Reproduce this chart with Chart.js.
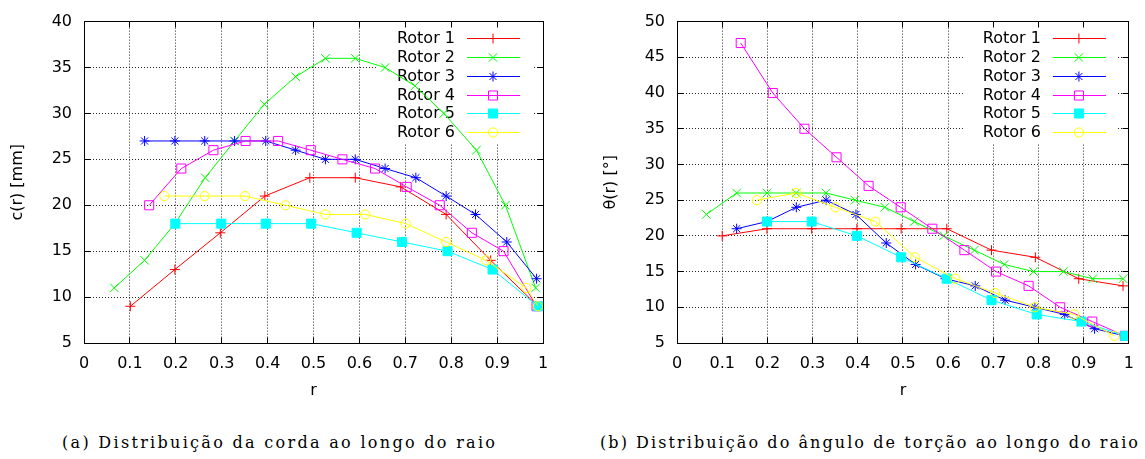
<!DOCTYPE html>
<html><head><meta charset="utf-8">
<script src="https://cdn.jsdelivr.net/npm/chart.js@4.4.1/dist/chart.umd.min.js"></script>
<style>
html,body{margin:0;padding:0;background:#fff;width:1145px;height:459px;overflow:hidden;position:relative}
.wrap{position:absolute;top:0}
.cap{position:absolute;top:433px;font-family:"DejaVu Serif",serif;font-size:16px;line-height:20px;white-space:nowrap;color:#000}
</style></head><body>
<div class="wrap" style="left:0"><canvas id="cA" width="560" height="410"></canvas></div>
<div class="wrap" style="left:593px"><canvas id="cB" width="552" height="410"></canvas></div>
<div class="cap" id="capA">(a) Distribuição da corda ao longo do raio</div>
<div class="cap" id="capB">(b) Distribuição do ângulo de torção ao longo do raio</div>
<script>
// ---------- data ----------
const rotorNames = ['Rotor 1', 'Rotor 2', 'Rotor 3', 'Rotor 4', 'Rotor 5', 'Rotor 6'];

const xTicks = [0, 0.1, 0.2, 0.3, 0.4, 0.5, 0.6, 0.7, 0.8, 0.9, 1];
const xTickLabels = ['0', '0.1', '0.2', '0.3', '0.4', '0.5', '0.6', '0.7', '0.8', '0.9', '1'];
const yTicksChord = [5, 10, 15, 20, 25, 30, 35, 40];
const yTicksTwist = [5, 10, 15, 20, 25, 30, 35, 40, 45, 50];

// (a) chord c(r) [mm]
const chordR1 = [0.101, 0.198, 0.297, 0.394, 0.492, 0.591, 0.690, 0.789, 0.886, 0.989];
const chordC1 = [9, 13, 17, 21, 23, 23, 22, 19, 14, 9];
const chordR2 = [0.066, 0.132, 0.198, 0.264, 0.328, 0.393, 0.461, 0.526, 0.591, 0.656, 0.721, 0.784, 0.855, 0.918, 0.984];
const chordC2 = [11, 14, 18, 23, 27, 31, 34, 36, 36, 35, 33, 30, 26, 20, 11];
const chordR3 = [0.132, 0.198, 0.263, 0.328, 0.396, 0.461, 0.526, 0.591, 0.656, 0.723, 0.789, 0.853, 0.921, 0.986];
const chordC3 = [27, 27, 27, 27, 27, 26, 25, 25, 24, 23, 21, 19, 16, 12];
const chordR4 = [0.142, 0.212, 0.282, 0.352, 0.423, 0.494, 0.563, 0.634, 0.703, 0.775, 0.845, 0.914, 0.986];
const chordC4 = [20, 24, 26, 27, 27, 26, 25, 24, 22, 20, 17, 15, 9];
const chordR5 = [0.199, 0.299, 0.396, 0.495, 0.594, 0.693, 0.792, 0.890, 0.989];
const chordC5 = [18, 18, 18, 18, 17, 16, 15, 13, 9];
const chordR6 = [0.175, 0.263, 0.351, 0.439, 0.526, 0.613, 0.701, 0.789, 0.876, 0.964, 0.989];
const chordC6 = [21, 21, 21, 20, 19, 19, 18, 16, 14, 11, 9];

// (b) twist angle theta(r) [deg]
const twistR1 = [0.100, 0.199, 0.298, 0.398, 0.496, 0.597, 0.696, 0.793, 0.889, 0.987];
const twistT1 = [20, 21, 21, 21, 21, 21, 18, 17, 14, 13];
const twistR2 = [0.065, 0.132, 0.199, 0.264, 0.330, 0.394, 0.460, 0.525, 0.590, 0.658, 0.724, 0.789, 0.855, 0.920, 0.987];
const twistT2 = [23, 26, 26, 26, 26, 25, 24, 22, 20, 18, 16, 15, 15, 14, 14];
const twistR3 = [0.132, 0.199, 0.264, 0.330, 0.396, 0.463, 0.528, 0.594, 0.660, 0.726, 0.792, 0.858, 0.924, 0.990];
const twistT3 = [21, 22, 24, 25, 23, 19, 16, 14, 13, 11, 10, 9, 7, 6];
const twistR4 = [0.141, 0.212, 0.282, 0.353, 0.424, 0.495, 0.565, 0.636, 0.706, 0.778, 0.848, 0.919, 0.991];
const twistT4 = [47, 40, 35, 31, 27, 24, 21, 18, 15, 13, 10, 8, 6];
const twistR5 = [0.199, 0.298, 0.398, 0.496, 0.597, 0.696, 0.796, 0.895, 0.992];
const twistT5 = [22, 22, 20, 17, 14, 11, 9, 8, 6];
const twistR6 = [0.177, 0.264, 0.351, 0.439, 0.527, 0.616, 0.704, 0.792, 0.879, 0.968];
const twistT6 = [25, 26, 24, 22, 17, 14, 12, 10, 9, 6];

// ---------- styles ----------
const colors = ['#ff0000', '#00ff00', '#0000ff', '#ff00ff', '#00ffff', '#ffff00'];
const markers = ['cross', 'crossRot', 'star', 'rect', 'rect', 'circle'];
const markerRadius = [5, 6, 5, 6.4, 6.4, 4.6];
const markerFilled = [false, false, false, false, true, false];
const FONT = {family: '"DejaVu Sans", sans-serif', size: 16};

function drawMarker(ctx, style, x, y, r, color, filled) {
  ctx.save();
  ctx.strokeStyle = color; ctx.fillStyle = color; ctx.lineWidth = 1;
  ctx.beginPath();
  if (style === 'cross' || style === 'star') {
    ctx.moveTo(x - r, y); ctx.lineTo(x + r, y);
    ctx.moveTo(x, y - r); ctx.lineTo(x, y + r);
  }
  if (style === 'crossRot' || style === 'star') {
    const d = r * Math.SQRT1_2;
    ctx.moveTo(x - d, y - d); ctx.lineTo(x + d, y + d);
    ctx.moveTo(x - d, y + d); ctx.lineTo(x + d, y - d);
  }
  if (style === 'rect') {
    const s = r * Math.SQRT1_2;
    ctx.rect(x - s, y - s, 2 * s, 2 * s);
    if (filled) ctx.fill();
  }
  if (style === 'circle') {
    ctx.arc(x, y, r, 0, Math.PI * 2);
  }
  ctx.stroke();
  ctx.restore();
}

const align = v => Math.round(v - 0.5) + 0.5;

const gnuplotLook = {
  id: 'gnuplotLook',
  beforeDatasetsDraw(chart) {
    const {ctx, chartArea: a} = chart;
    ctx.save();
    ctx.fillStyle = '#fff';
    ctx.fillRect(a.right - 166, a.top + 1, 155, 121);
    ctx.font = '16px "DejaVu Sans", sans-serif';
    ctx.textAlign = 'right';
    ctx.textBaseline = 'middle';
    chart.data.datasets.forEach((ds, i) => {
      const y = align(a.top + 17.3 + i * 18.7);
      ctx.fillStyle = '#000';
      ctx.fillText(ds.label, a.right - 88, y);
      ctx.strokeStyle = ds.borderColor; ctx.lineWidth = 1;
      ctx.beginPath(); ctx.moveTo(a.right - 76, y); ctx.lineTo(a.right - 23, y); ctx.stroke();
      drawMarker(ctx, markers[i], a.right - 50, y, markerRadius[i], colors[i], markerFilled[i]);
    });
    ctx.restore();
  },
  afterDraw(chart) {
    const {ctx, chartArea: a, scales} = chart;
    ctx.save();
    ctx.strokeStyle = '#000'; ctx.lineWidth = 1;
    const L = align(a.left), R = align(a.right), T = align(a.top), B = align(a.bottom);
    ctx.strokeRect(L, T, R - L, B - T);
    ctx.beginPath();
    scales.x.ticks.forEach(t => {
      const px = align(scales.x.getPixelForValue(t.value));
      ctx.moveTo(px, B); ctx.lineTo(px, B - 6);
      ctx.moveTo(px, T); ctx.lineTo(px, T + 6);
    });
    scales.y.ticks.forEach(t => {
      const py = align(scales.y.getPixelForValue(t.value));
      ctx.moveTo(L, py); ctx.lineTo(L + 6, py);
      ctx.moveTo(R, py); ctx.lineTo(R - 6, py);
    });
    ctx.stroke();
    ctx.restore();
  }
};

function makeChart(id, rs, vs, yTicks, yTitle, padRight) {
  const datasets = rotorNames.map((name, i) => ({
    label: name,
    data: rs[i].map((r, k) => ({x: r, y: vs[i][k]})),
    borderColor: colors[i],
    backgroundColor: colors[i],
    borderWidth: 1,
    pointStyle: markers[i],
    pointRadius: markerRadius[i],
    pointBorderWidth: 1,
    pointBorderColor: colors[i],
    pointBackgroundColor: markerFilled[i] ? colors[i] : 'rgba(0,0,0,0)',
    tension: 0,
    order: 6 - i
  }));
  return new Chart(document.getElementById(id), {
    type: 'line',
    data: {datasets},
    options: {
      responsive: false,
      animation: false,
      events: [],
      layout: {padding: {left: 0, right: padRight, top: 16, bottom: 0}},
      plugins: {legend: {display: false}, tooltip: {enabled: false}},
      scales: {
        x: {
          type: 'linear', min: 0, max: 1,
          afterBuildTicks: s => { s.ticks = xTicks.map(v => ({value: v})); },
          afterFit: s => { s.height = 67; },
          ticks: {autoSkip: false, maxRotation: 0, padding: 11, font: FONT, color: '#000',
                  callback: (v, i) => xTickLabels[i]},
          grid: {color: '#222', lineWidth: 1, drawTicks: false},
          border: {display: false, dash: [1, 2]},
          title: {display: true, text: 'r', font: FONT, color: '#000', padding: {top: 0, bottom: 10}}
        },
        y: {
          type: 'linear', min: yTicks[0], max: yTicks[yTicks.length - 1],
          afterBuildTicks: s => { s.ticks = yTicks.map(v => ({value: v})); },
          afterFit: s => { s.width = 84; },
          ticks: {autoSkip: false, padding: 12, font: FONT, color: '#000',
                  callback: v => String(v)},
          grid: {color: '#222', lineWidth: 1, drawTicks: false},
          border: {display: false, dash: [1, 2]},
          title: {display: true, text: yTitle, font: FONT, color: '#000', padding: {top: 8, bottom: 8}}
        }
      }
    },
    plugins: [gnuplotLook]
  });
}

makeChart('cA',
  [chordR1, chordR2, chordR3, chordR4, chordR5, chordR6],
  [chordC1, chordC2, chordC3, chordC4, chordC5, chordC6],
  yTicksChord, 'c(r) [mm]', 17);
makeChart('cB',
  [twistR1, twistR2, twistR3, twistR4, twistR5, twistR6],
  [twistT1, twistT2, twistT3, twistT4, twistT5, twistT6],
  yTicksTwist, 'θ(r) [°]', 9);

// captions: fit width like the reference
function fitCaption(id, left, right) {
  const el = document.getElementById(id);
  el.style.letterSpacing = '0px';
  const w = el.getBoundingClientRect().width;
  const n = el.textContent.length;
  const ls = (right - left - w) / (n - 1);
  el.style.letterSpacing = ls + 'px';
  el.style.left = left + 'px';
}
fitCaption('capA', 62, 495);
fitCaption('capB', 600, 1138);
</script>
</body></html>
